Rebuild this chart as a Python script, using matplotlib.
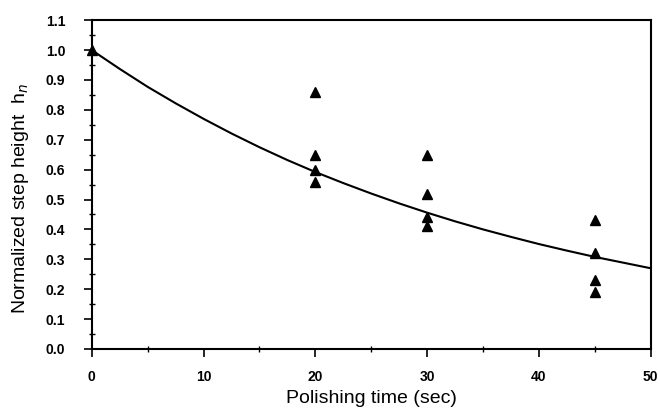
import numpy as np
import matplotlib
import matplotlib.pyplot as plt
from matplotlib.ticker import MultipleLocator

matplotlib.rcParams['font.family'] = 'sans-serif'
matplotlib.rcParams['font.sans-serif'] = ['Liberation Sans']

# measured step heights
t_meas = [0, 20, 20, 20, 20, 30, 30, 30, 30, 45, 45, 45, 45]
h_meas = [1.0, 0.86, 0.65, 0.60, 0.56, 0.65, 0.52, 0.44, 0.41, 0.43, 0.32, 0.23, 0.19]

# fitted curve
t_fit = [0, 2.5, 5, 7.5, 10, 12.5, 15, 17.5, 20, 22.5, 25, 27.5, 30,
         32.5, 35, 37.5, 40, 42.5, 45, 47.5, 50]
h_fit = [1.0, 0.937, 0.877, 0.822, 0.770, 0.721, 0.675, 0.632, 0.592, 0.555, 0.520,
         0.487, 0.456, 0.427, 0.400, 0.375, 0.351, 0.329, 0.308, 0.289, 0.270]

fig = plt.figure(figsize=(6.6, 4.12), dpi=100)
ax = fig.add_axes([0.139, 0.153, 0.847, 0.798])

ax.plot(t_fit, h_fit, color='black', lw=1.5)
ax.plot(t_meas, h_meas, '^', color='black', ms=7.5, clip_on=False)

ax.set_xlim(0, 50)
ax.set_ylim(0, 1.1)
ax.xaxis.set_major_locator(MultipleLocator(10))
ax.xaxis.set_minor_locator(MultipleLocator(5))
ax.yaxis.set_major_locator(MultipleLocator(0.1))
ax.yaxis.set_minor_locator(MultipleLocator(0.05))
ax.yaxis.set_major_formatter(matplotlib.ticker.FormatStrFormatter('%.1f'))

ax.tick_params(which='major', direction='out', length=6, width=1.2, labelsize=10)
ax.tick_params(axis='y', which='major', pad=13)
ax.tick_params(axis='x', which='major', pad=9)
ax.tick_params(which='minor', direction='inout', length=4, width=1)
for lbl in ax.get_xticklabels() + ax.get_yticklabels():
    lbl.set_fontweight('bold')
for s in ax.spines.values():
    s.set_linewidth(1.5)

ax.set_xlabel('Polishing time (sec)', fontsize=14)
ax.set_ylabel('Normalized step height  h$_n$', fontsize=14)
ax.xaxis.set_label_coords(0.5, -0.125)
ax.yaxis.set_label_coords(-0.108, 0.457)

plt.savefig('out.png', dpi=100)
